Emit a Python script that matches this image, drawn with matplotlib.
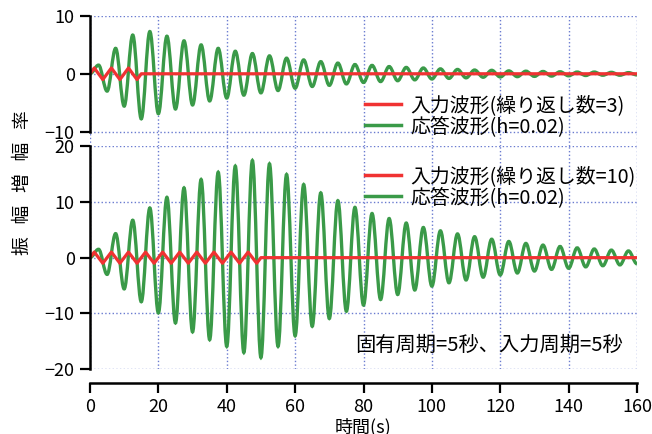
"""Resonance response of a damped oscillator to a short sine input (3 and 10 cycles)."""
import matplotlib
matplotlib.use('Agg')
import matplotlib.pyplot as plt
import numpy as np
from matplotlib.lines import Line2D
from matplotlib.patches import PathPatch
from matplotlib.path import Path

plt.rcParams['font.family'] = ['Noto Sans CJK JP', 'DejaVu Sans']

RED = '#f03232'
GREEN = '#3a9a48'
GRID = '#6a7bd0'

# input wave, sampled every 1.25 s
red3_y = [0, 1, 0, -1, 0, 1, 0, -1, 0, 1, 0, -1, 0]
red10_y = [0, 1, 0, -1, 0, 1, 0, -1, 0, 1, 0, -1, 0, 1, 0, -1, 0, 1, 0, -1,
           0, 1, 0, -1, 0, 1, 0, -1, 0, 1, 0, -1, 0, 1, 0, -1, 0, 1, 0, -1, 0]
red_step = 1.25

# response peaks, one every half period (2.5 s)
green3_pk = [1.5, -3.0, 4.4, -5.6, 6.7, -7.8, 7.3, -6.9, 6.5, -6.1,
             5.7, -5.4, 5.0, -4.7, 4.4, -4.2, 3.9, -3.7, 3.5, -3.3,
             3.1, -2.9, 2.7, -2.5, 2.4, -2.2, 2.1, -2.0, 1.85, -1.75,
             1.6, -1.5, 1.45, -1.35, 1.25, -1.2, 1.1, -1.05, 1.0, -0.9,
             0.85, -0.8, 0.75, -0.7, 0.65, -0.6, 0.6, -0.55, 0.5, -0.5,
             0.45, -0.45, 0.4, -0.4, 0.35, -0.35, 0.3, -0.3, 0.3, -0.25,
             0.25, -0.25, 0.2, -0.2]
green10_pk = [1.5, -3.0, 4.3, -5.6, 6.7, -7.9, 8.9, -9.9, 10.8, -11.7,
              12.5, -13.3, 14.0, -14.7, 15.3, -15.9, 16.4, -17.0, 17.4, -17.9,
              16.8, -15.9, 14.9, -14.0, 13.1, -12.3, 11.6, -10.9, 10.2, -9.6,
              9.0, -8.5, 7.9, -7.5, 7.0, -6.6, 6.2, -5.8, 5.4, -5.1,
              4.8, -4.5, 4.25, -4.0, 3.75, -3.5, 3.3, -3.1, 2.9, -2.75,
              2.55, -2.4, 2.25, -2.1, 2.0, -1.9, 1.75, -1.65, 1.55, -1.45,
              1.35, -1.3, 1.2, -1.1]
pk_step = 2.5

t_end = 160


def wave_path(peaks, step):
    # smooth curve through successive peaks (cubic bezier, flat at each peak)
    verts = [(0.0, 0.0)]
    codes = [Path.MOVETO]
    t0, y0 = 0.0, 0.0
    for i, y in enumerate(peaks):
        t = (i + 1) * step
        c = 0.3642 * (t - t0)
        verts += [(t0 + c, y0), (t - c, y), (t, y)]
        codes += [Path.CURVE4] * 3
        t0, y0 = t, y
    return Path(verts, codes)


def draw(ax, red_y, green_pk, label_n):
    rt = np.arange(len(red_y)) * red_step
    ax.plot(np.append(rt, t_end), np.append(red_y, 0), color=RED, lw=2.3)
    ax.add_patch(PathPatch(wave_path(green_pk, pk_step), fill=False,
                           edgecolor=GREEN, lw=2.4))
    handles = [Line2D([], [], color=RED, lw=2.5), Line2D([], [], color=GREEN, lw=2.5)]
    labels = ['入力波形(繰り返し数=%d)' % label_n, '応答波形(h=0.02)']
    return handles, labels


def style(ax):
    for s in ['top', 'right']:
        ax.spines[s].set_visible(False)
    for s in ['left', 'bottom']:
        ax.spines[s].set_linewidth(1.8)
    ax.tick_params(direction='out', length=7, width=1.6, labelsize=13, pad=4)
    ax.grid(True, linestyle=':', color=GRID, lw=1)
    ax.set_axisbelow(True)
    ax.set_xlim(0, t_end)
    ax.set_xticks(np.arange(0, 161, 20))


fig = plt.figure(figsize=(6.52, 4.34), dpi=100)
ax1 = fig.add_axes([90 / 652, 1 - 146 / 434, 547 / 652, 130 / 434])
ax2 = fig.add_axes([90 / 652, 1 - 369.3 / 434, 547 / 652, 223.3 / 434])

style(ax1)
style(ax2)

ax1.set_ylim(-12.5, 10)
ax1.set_yticks([-10, 0, 10])
ax1.spines['left'].set_bounds(-10, 10)
ax1.spines['bottom'].set_visible(False)
ax1.tick_params(axis='x', bottom=False, labelbottom=False)

ax2.set_ylim(-20, 20)
ax2.set_yticks([-20, -10, 0, 10, 20])
ax2.spines['bottom'].set_position(('outward', 10))

h, l = draw(ax1, red3_y, green3_pk, 3)
ax1.legend(h, l, loc='upper left', bbox_to_anchor=(365 / 652, 1 - 95 / 434),
           bbox_transform=fig.transFigure, frameon=False, fontsize=14.3,
           handlelength=1.8, handletextpad=0.5, labelspacing=0.0,
           borderpad=0, borderaxespad=0)

h, l = draw(ax2, red10_y, green10_pk, 10)
ax2.legend(h, l, loc='upper left', bbox_to_anchor=(365 / 652, 1 - 166 / 434),
           bbox_transform=fig.transFigure, frameon=False, fontsize=14.3,
           handlelength=1.8, handletextpad=0.5, labelspacing=0.0,
           borderpad=0, borderaxespad=0)

ax2.set_xlabel('時間(s)', fontsize=13, labelpad=1)
fig.text(355 / 652, 1 - 345 / 434, '固有周期=5秒、入力周期=5秒', fontsize=14.6, va='center')
fig.text(23 / 652, 1 - 183 / 434, '振   幅   増   幅   率', rotation=90,
         ha='center', va='center', fontsize=13.5)

fig.savefig('out.png', dpi=100)
